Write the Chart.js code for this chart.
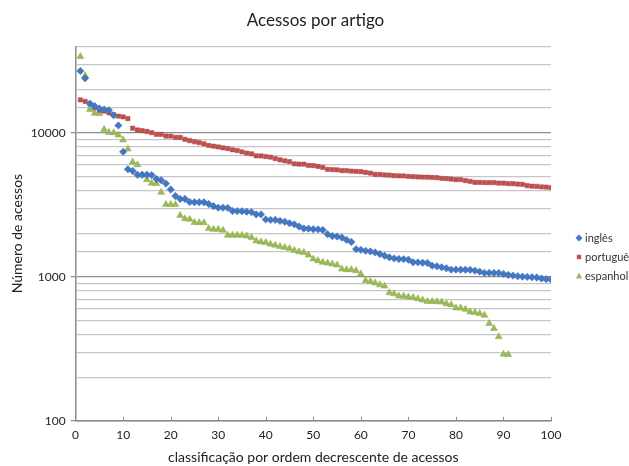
<!DOCTYPE html>
<html>
<head>
<meta charset="utf-8">
<script src="https://cdn.jsdelivr.net/npm/chart.js@4"></script>
<style>
  html, body { margin: 0; padding: 0; background: #fff; overflow: hidden; }
  #wrap { width: 629px; height: 466px; }
</style>
</head>
<body>
<div id="wrap"><canvas id="myChart"></canvas></div>
<script>
// rank of the article (x axis)
const ranks = [
    1, 2, 3, 4, 5, 6, 7, 8, 9, 10, 11, 12, 13, 14, 15, 16, 17, 18, 19, 20,
    21, 22, 23, 24, 25, 26, 27, 28, 29, 30, 31, 32, 33, 34, 35, 36, 37, 38, 39, 40,
    41, 42, 43, 44, 45, 46, 47, 48, 49, 50, 51, 52, 53, 54, 55, 56, 57, 58, 59, 60,
    61, 62, 63, 64, 65, 66, 67, 68, 69, 70, 71, 72, 73, 74, 75, 76, 77, 78, 79, 80,
    81, 82, 83, 84, 85, 86, 87, 88, 89, 90, 91, 92, 93, 94, 95, 96, 97, 98, 99, 100
]

const ingles = [
    27000, 24000, 16000, 15400, 14800, 14600, 14400, 13300, 11300, 7400,
    5600, 5450, 5130, 5130, 5130, 5100, 4790, 4700, 4450, 4050,
    3650, 3480, 3480, 3320, 3300, 3300, 3300, 3210, 3100, 3030,
    3030, 3020, 2870, 2865, 2860, 2840, 2820, 2720, 2720, 2510,
    2490, 2490, 2450, 2420, 2360, 2320, 2240, 2170, 2165, 2142,
    2140, 2120, 1980, 1925, 1908, 1877, 1808, 1750, 1560, 1542,
    1518, 1504, 1480, 1441, 1403, 1367, 1345, 1331, 1330, 1316,
    1263, 1262, 1255, 1249, 1197, 1185, 1166, 1148, 1123, 1123,
    1122, 1121, 1120, 1105, 1088, 1066, 1066, 1065, 1064, 1048,
    1032, 1021, 1011, 1005, 1000, 995, 990, 975, 965, 960
]

const portugues = [
    17000, 16600, 16000, 15000, 14400, 14200, 13800, 13400, 13100, 12950,
    12600, 10800, 10500, 10400, 10250, 10050, 9800, 9790, 9530, 9520,
    9340, 9330, 9050, 8850, 8700, 8560, 8420, 8200, 8100, 8000,
    7900, 7800, 7650, 7550, 7400, 7250, 7170, 6940, 6930, 6865,
    6795, 6650, 6510, 6410, 6340, 6110, 6080, 6070, 5950, 5940,
    5855, 5765, 5585, 5560, 5550, 5480, 5470, 5440, 5410, 5400,
    5325, 5270, 5160, 5150, 5110, 5100, 5050, 5040, 5030, 4990,
    4970, 4950, 4940, 4930, 4910, 4895, 4840, 4820, 4790, 4740,
    4735, 4670, 4620, 4540, 4535, 4530, 4525, 4520, 4490, 4485,
    4450, 4445, 4420, 4400, 4310, 4270, 4265, 4220, 4215, 4175
]

const espanhol = [
    34000, 25000, 14600, 13700, 13650, 10600, 10100, 10050, 9690, 8950,
    7760, 6280, 6020, 5100, 4740, 4470, 4450, 3875, 3190, 3185,
    3180, 2677, 2540, 2512, 2384, 2383, 2382, 2167, 2142, 2141,
    2110, 1949, 1948, 1947, 1946, 1925, 1877, 1780, 1750, 1735,
    1689, 1663, 1628, 1603, 1577, 1528, 1495, 1480, 1418, 1331,
    1296, 1263, 1249, 1229, 1210, 1135, 1123, 1122, 1105, 1048,
    943, 928, 909, 881, 863, 776, 763, 736, 735, 725,
    720, 705, 690, 675, 674, 673, 669, 651, 641, 609,
    608, 595, 571, 565, 556, 541, 474, 438, 384, 290,
    289
]

const yTickLabels = [100, 1000, 10000]

const pts = (vals) => vals.map((v, i) => ({ x: ranks[i], y: v }));
const isMajor = (v) => yTickLabels.includes(v);

// legend drawn by hand so it can sit where the original one sits (and get cut at the edge)
const sideLegend = {
    id: 'sideLegend',
    afterDraw(chart) {
        const ctx = chart.ctx;
        ctx.save();
        chart.data.datasets.forEach((ds, i) => {
            const x = 579, y = 238 + i * 19;
            ctx.fillStyle = ds.backgroundColor;
            ctx.beginPath();
            if (ds.pointStyle === 'rectRot') {
                ctx.moveTo(x, y - 3.5); ctx.lineTo(x + 3.5, y);
                ctx.lineTo(x, y + 3.5); ctx.lineTo(x - 3.5, y);
            } else if (ds.pointStyle === 'rect') {
                ctx.rect(x - 2.2, y - 2.2, 4.4, 4.4);
            } else {
                ctx.moveTo(x, y - 3.5); ctx.lineTo(x + 3.2, y + 2.5); ctx.lineTo(x - 3.2, y + 2.5);
            }
            ctx.closePath();
            ctx.fill();
            ctx.fillStyle = '#333';
            ctx.font = '11px Lato';
            ctx.textBaseline = 'middle';
            ctx.fillText(ds.label, x + 6, y);
        });
        // small inward tick marks on the x axis
        const xs = chart.scales.x;
        ctx.strokeStyle = '#8c8c8c';
        ctx.lineWidth = 1;
        xs.ticks.forEach((t) => {
            if (t.value === 0) return;
            const px = Math.round(xs.getPixelForValue(t.value)) + 0.5;
            ctx.beginPath();
            ctx.moveTo(px, xs.top);
            ctx.lineTo(px, xs.top - 4);
            ctx.stroke();
        });
        ctx.restore();
    }
};

const data = {
    datasets: [{
        label: 'inglês',
        data: pts(ingles),
        showLine: false,
        pointStyle: 'rectRot',
        pointRadius: 3.7,
        backgroundColor: '#4578C2',
        borderColor: '#3C6DB5',
        borderWidth: 0.5,
    }, {
        label: 'português',
        data: pts(portugues),
        showLine: false,
        pointStyle: 'rect',
        pointRadius: 3,
        backgroundColor: '#C0504D',
        borderColor: '#A8403D',
        borderWidth: 0.5,
    }, {
        label: 'espanhol',
        data: pts(espanhol),
        showLine: false,
        pointStyle: 'triangle',
        pointRadius: 4,
        backgroundColor: '#9BBB59',
        borderColor: '#8AAA4A',
        borderWidth: 0.5,
    }]
};

const config = {
    type: 'line',
    data: data,
    plugins: [sideLegend],
    options: {
        responsive: true,
        maintainAspectRatio: false,
        animation: false,
        layout: { padding: { top: 4, right: 0, left: 2, bottom: 0 } },
        plugins: {
            title: {
                display: true,
                text: 'Acessos por artigo',
                color: '#222',
                font: { family: 'Lato', size: 17, weight: 'normal' },
                padding: { top: 6, bottom: 16 }
            },
            legend: { display: false },
            tooltip: { enabled: false }
        },
        scales: {
            x: {
                type: 'linear',
                min: 0,
                max: 100,
                ticks: {
                    stepSize: 10,
                    color: '#222',
                    padding: 7,
                    font: { family: 'Lato', size: 12 }
                },
                grid: { drawOnChartArea: false, drawTicks: false },
                border: { color: '#8c8c8c', width: 1.5 },
                title: {
                    display: true,
                    text: 'classificação por ordem decrescente de acessos',
                    color: '#222',
                    font: { family: 'Lato', size: 14 },
                    padding: { top: 0, bottom: 0 }
                }
            },
            y: {
                type: 'logarithmic',
                min: 100,
                max: 40000,
                ticks: {
                    autoSkip: false,
                    color: '#222',
                    padding: 5,
                    font: { family: 'Lato', size: 12 },
                    callback: (v) => isMajor(v) ? String(v) : ''
                },
                grid: {
                    color: (ctx) => isMajor(ctx.tick.value) ? '#8c8c8c' : '#c6c6c6',
                    lineWidth: 1.2,
                    tickLength: 5,
                    tickColor: (ctx) => isMajor(ctx.tick.value) ? '#8c8c8c' : 'rgba(0,0,0,0)'
                },
                border: { color: '#8c8c8c', width: 1.5 },
                title: {
                    display: true,
                    text: 'Número de acessos',
                    color: '#222',
                    font: { family: 'Lato', size: 14 },
                    padding: { top: 7, bottom: 0 }
                }
            },
            // empty right-hand box that leaves room for the legend
            legendSpace: {
                type: 'linear',
                position: 'right',
                display: true,
                grid: { display: false },
                border: { display: false },
                ticks: { display: false },
                afterFit: (scale) => { scale.width = 78; }
            }
        }
    }
};

const myChart = new Chart(
    document.getElementById('myChart'),
    config
);
</script>
</body>
</html>
